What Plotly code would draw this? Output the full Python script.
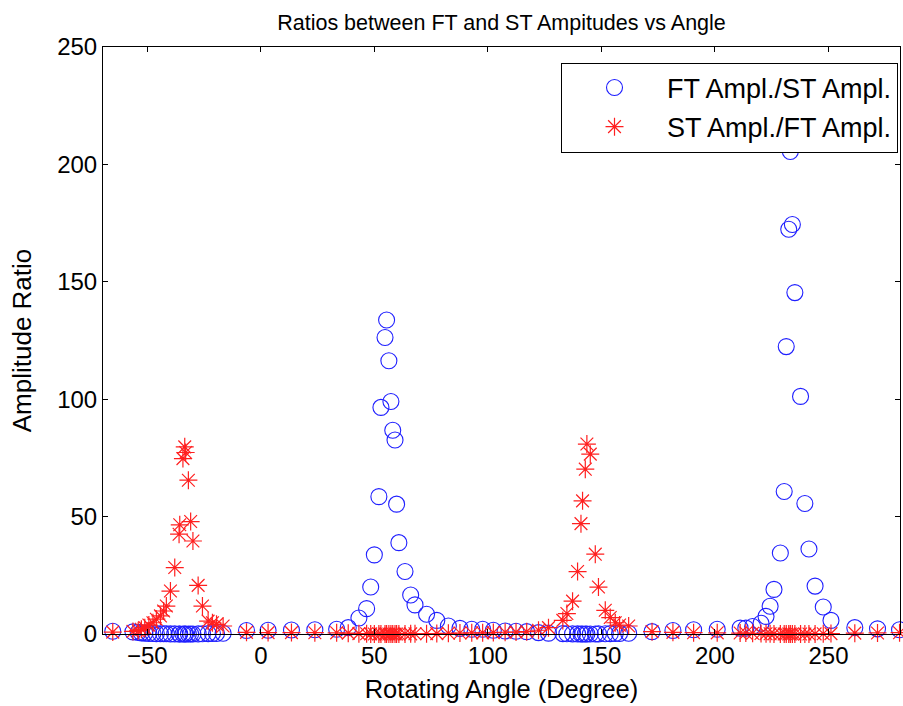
import plotly.graph_objects as go

# Rotating angle (degrees), shared by both series
angle = [
    -65.2, -56.3, -54.0, -52.6, -51.1, -49.3, -47.5, -46.0, -44.2, -42.8,
    -41.6, -39.8, -37.9, -36.0, -35.7, -34.3, -33.5, -33.1, -31.9, -30.9,
    -29.9, -27.6, -25.7, -23.2, -21.3, -19.5, -16.6,
    -6.3, 3.2, 13.5, 23.8, 33.4, 38.5, 43.2, 46.6, 48.4, 50.0,
    52.0, 52.9, 54.7, 55.4, 56.4, 57.3, 58.1, 59.1, 59.8, 60.8,
    63.5, 66.0, 67.9, 73.0, 77.5, 82.6, 87.7, 92.9, 97.7, 102.4,
    107.6, 112.4, 117.1, 122.3, 126.7,
    133.0, 134.8, 137.3, 139.5, 141.0, 141.7, 142.9, 143.6, 145.1, 147.3,
    148.7, 151.7, 153.9, 156.1, 158.0, 162.0, 172.3, 181.5, 190.6,
    201.0, 211.1, 213.6, 216.6, 220.3, 222.5, 224.3, 226.0, 228.8, 230.5,
    231.4, 232.5, 233.2, 234.1, 235.2, 237.7, 239.6, 241.4, 244.1, 247.7,
    251.1, 261.6, 271.6, 281.3,
]

# FT amplitude / ST amplitude (blue circles)
ft_over_st = [
    1.2, 0.9, 0.7, 0.5, 0.37, 0.26, 0.21, 0.16, 0.13, 0.10,
    0.08, 0.05, 0.035, 0.024, 0.02, 0.013, 0.0125, 0.013, 0.015, 0.02,
    0.025, 0.05, 0.08, 0.18, 0.21, 0.24, 0.3,
    1.5, 1.6, 1.7, 1.8, 2.0, 2.7, 6.8, 10.8, 20.0, 33.7,
    58.5, 96.5, 126.3, 133.7, 116.4, 99.0, 86.8, 82.6, 55.3, 38.9,
    26.6, 16.6, 12.4, 8.4, 5.8, 3.4, 2.4, 2.0, 2.0, 1.6,
    1.3, 1.2, 1.0, 0.6, 0.37,
    0.17, 0.11, 0.07, 0.04, 0.02, 0.018, 0.014, 0.012, 0.013, 0.03,
    0.05, 0.1, 0.14, 0.2, 0.26, 0.3, 1.0, 1.5, 1.8,
    2.0, 2.5, 2.5, 3.2, 4.6, 7.5, 11.8, 19.0, 34.5, 60.7,
    122.4, 172.4, 205.5, 174.4, 145.4, 101.2, 55.6, 36.2, 20.4, 11.5,
    5.8, 2.7, 2.2, 1.8,
]

# ST amplitude / FT amplitude (red stars)
st_over_ft = [
    0.8, 1.1, 1.4, 2.0, 2.7, 3.8, 4.8, 6.3, 7.7, 9.8,
    11.9, 18.3, 28.3, 42.5, 46.5, 74.7, 79.7, 77.3, 65.5, 47.9,
    39.6, 20.7, 11.9, 5.5, 4.8, 4.1, 3.4,
    0.7, 0.6, 0.6, 0.55, 0.5, 0.37, 0.15, 0.09, 0.05, 0.03,
    0.017, 0.01, 0.008, 0.007, 0.009, 0.01, 0.012, 0.012, 0.018, 0.026,
    0.04, 0.06, 0.08, 0.12, 0.17, 0.3, 0.4, 0.5, 0.5, 0.6,
    0.75, 0.8, 1.0, 1.6, 2.7,
    5.8, 8.7, 14.0, 26.6, 47.0, 56.7, 70.2, 80.9, 76.6, 34.0,
    20.0, 10.1, 7.0, 4.8, 3.8, 3.4, 1.0, 0.7, 0.55,
    0.5, 0.4, 0.4, 0.3, 0.22, 0.13, 0.08, 0.05, 0.03, 0.016,
    0.008, 0.006, 0.005, 0.006, 0.007, 0.01, 0.018, 0.028, 0.05, 0.09,
    0.17, 0.37, 0.45, 0.55,
]

x_ticks = [-50, 0, 50, 100, 150, 200, 250]
y_ticks = [0, 50, 100, 150, 200, 250]

FONT = "Liberation Sans, Arial, sans-serif"

fig = go.Figure()
fig.add_trace(go.Scatter(
    x=angle, y=ft_over_st, mode="markers", name="FT Ampl./ST Ampl.",
    legendgroup="a", cliponaxis=False,
    marker=dict(symbol="circle-open", size=16, color="#1f1fff",
                line=dict(width=1.1, color="#1f1fff")),
))
fig.add_trace(go.Scatter(
    x=angle, y=st_over_ft, mode="markers", name="ST Ampl./FT Ampl.",
    legendgroup="b", cliponaxis=False,
    marker=dict(symbol="asterisk-open", size=15, color="#ff1f1f",
                line=dict(width=1.2, color="#ff1f1f")),
))

axis_common = dict(
    showline=True, linecolor="black", linewidth=1, mirror="ticks",
    ticks="inside", ticklen=5, tickcolor="black", showgrid=False,
    zeroline=False, automargin=False,
    tickfont=dict(family=FONT, size=24, color="black"),
)

fig.update_layout(
    width=903, height=706,
    margin=dict(l=103, r=3, t=47, b=72),
    paper_bgcolor="white", plot_bgcolor="white",
    title=dict(text="Ratios between FT and ST Ampitudes vs Angle",
               x=0.5, xref="paper", xanchor="center",
               y=1 - 22 / 706, yanchor="middle",
               font=dict(family=FONT, size=21.5, color="black")),
    xaxis=dict(range=[-69.5, 281.5], tickvals=x_ticks,
               title=dict(text="Rotating Angle (Degree)", standoff=12,
                          font=dict(family=FONT, size=25.5, color="black")),
               **axis_common),
    yaxis=dict(range=[0, 250], tickvals=y_ticks,
               title=dict(text="Amplitude Ratio", standoff=18,
                          font=dict(family=FONT, size=26, color="black")),
               **axis_common),
    legend=dict(x=0.9975, y=(633.5 - 62) / 587, xanchor="right", yanchor="top",
                bgcolor="white", bordercolor="black", borderwidth=1,
                itemwidth=95, tracegroupgap=1, traceorder="grouped",
                font=dict(family=FONT, size=27, color="black")),
    showlegend=True,
)

fig.write_html("out.html", config={"displayModeBar": False},
               post_script="document.body.style.margin='0px';document.body.style.overflow='hidden';")
